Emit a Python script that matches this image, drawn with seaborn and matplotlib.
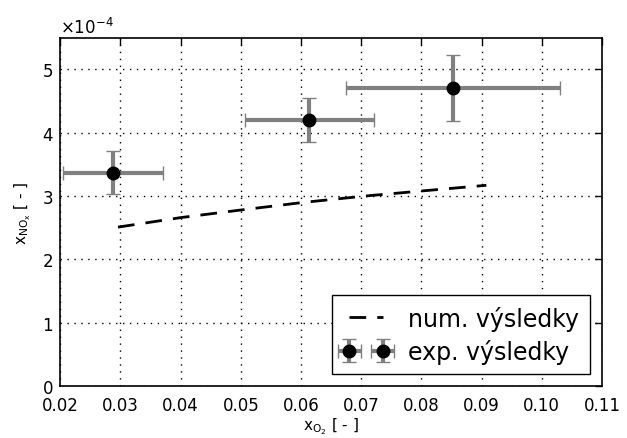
import matplotlib
matplotlib.use('Agg')
import matplotlib.pyplot as plt
import seaborn as sns
import pandas as pd

# experimental data
x_exp = [0.0288, 0.0614, 0.0853]
y_exp = [3.37e-4, 4.20e-4, 4.70e-4]
x_err = [0.0083, 0.0107, 0.0178]
y_err = [0.34e-4, 0.34e-4, 0.52e-4]

# numerical results
x_num = [0.0296, 0.0400, 0.0500, 0.0604, 0.0706, 0.0800, 0.0908]
y_num = [2.51e-4, 2.66e-4, 2.78e-4, 2.90e-4, 3.00e-4, 3.08e-4, 3.17e-4]

sns.set_style("white")
plt.rcParams['font.family'] = ['DejaVu Sans']
plt.rcParams['mathtext.default'] = 'regular'
plt.rcParams['xtick.direction'] = 'in'
plt.rcParams['ytick.direction'] = 'in'
for k in ['text.color', 'axes.labelcolor', 'xtick.color', 'ytick.color']:
    plt.rcParams[k] = 'black'

fig, ax = plt.subplots(figsize=(6.27, 4.39), dpi=100)
fig.subplots_adjust(left=0.096, right=0.96, top=0.912, bottom=0.118)

df_num = pd.DataFrame({'x': x_num, 'y': y_num})
sns.lineplot(data=df_num, x='x', y='y', ax=ax, color='black', linewidth=2,
             linestyle='--', dashes=False, label='num. výsledky')
ax.lines[0].set_dashes([6, 4])

ax.errorbar(x_exp, y_exp, xerr=x_err, yerr=y_err, fmt='o', color='black',
            ecolor='0.5', elinewidth=3, capsize=5, capthick=1, markersize=9,
            label='exp. výsledky')

ax.set_xlim(0.02, 0.11)
ax.set_ylim(0, 5.5e-4)
ax.set_xticks([0.02, 0.03, 0.04, 0.05, 0.06, 0.07, 0.08, 0.09, 0.10, 0.11])
ax.set_xticklabels(['0.02', '0.03', '0.04', '0.05', '0.06', '0.07', '0.08',
                    '0.09', '0.10', '0.11'])
ax.ticklabel_format(axis='y', style='sci', scilimits=(0, 0), useMathText=True)
ax.yaxis.get_offset_text().set_fontsize(12)
ax.tick_params(labelsize=12, length=5, width=1, top=True, right=True,
               color='black', pad=5)
ax.tick_params(axis='x', pad=7)
ax.grid(True, color='black', linestyle=(0, (1, 4)), linewidth=1)
for s in ax.spines.values():
    s.set_color('black')
    s.set_linewidth(1.2)

ax.set_xlabel(r'$x_{O_2}$ [ - ]', fontsize=11, labelpad=1)
ax.set_ylabel(r'$x_{NO_x}$ [ - ]', fontsize=11, labelpad=6)

leg = ax.legend(loc='lower right', fontsize=17, numpoints=2, fancybox=False,
                framealpha=1, edgecolor='black', handlelength=2.0,
                borderpad=0.45, labelspacing=0.35, handletextpad=0.8,
                borderaxespad=0.5)
leg.get_frame().set_linewidth(1)

fig.savefig('out.png', dpi=100, facecolor='white')
